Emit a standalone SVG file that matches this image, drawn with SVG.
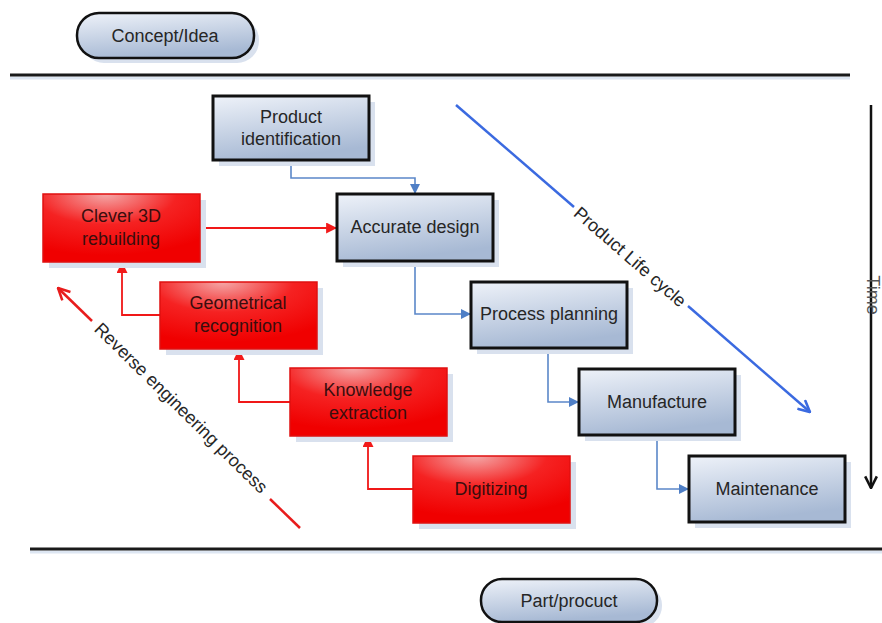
<svg xmlns="http://www.w3.org/2000/svg" width="882" height="623" viewBox="0 0 882 623">
<defs>
<linearGradient id="gb" x1="0" y1="0" x2="0.3" y2="1">
<stop offset="0" stop-color="#eef2f9"/>
<stop offset="1" stop-color="#a7b9d4"/>
</linearGradient>
<radialGradient id="gr" cx="0.4" cy="0" r="0.9">
<stop offset="0" stop-color="#f4a8a8"/>
<stop offset="0.5" stop-color="#f52222"/>
<stop offset="1" stop-color="#f00000"/>
</radialGradient>
<marker id="ab" viewBox="0 0 10 10" refX="9" refY="5" markerWidth="10" markerHeight="10" markerUnits="userSpaceOnUse" orient="auto">
<path d="M0,0 L10,5 L0,10 z" fill="#4f7fc6"/>
</marker>
<marker id="ar" viewBox="0 0 10 10" refX="9" refY="5" markerWidth="11" markerHeight="11" markerUnits="userSpaceOnUse" orient="auto">
<path d="M0,0 L10,5 L0,10 z" fill="#f21a1a"/>
</marker>
<marker id="alc" viewBox="0 0 12 12" refX="11" refY="6" markerWidth="14" markerHeight="14" markerUnits="userSpaceOnUse" orient="auto">
<path d="M1,1 L11,6 L1,11" fill="none" stroke="#3b6ae0" stroke-width="2.2"/>
</marker>
<marker id="are" viewBox="0 0 12 12" refX="11" refY="6" markerWidth="14" markerHeight="14" markerUnits="userSpaceOnUse" orient="auto">
<path d="M1,1 L11,6 L1,11" fill="none" stroke="#e81c1c" stroke-width="2.2"/>
</marker>
<marker id="atm" viewBox="0 0 12 12" refX="11" refY="6" markerWidth="14" markerHeight="14" markerUnits="userSpaceOnUse" orient="auto">
<path d="M1,1 L11,6 L1,11" fill="none" stroke="#111" stroke-width="2.2"/>
</marker>
</defs>
<style>
text{font-family:"Liberation Sans",Arial,sans-serif;font-size:18px;text-anchor:middle}
.bx{fill:url(#gb);stroke:#111;stroke-width:3}
.rx{fill:url(#gr);stroke:#e01010;stroke-width:1.5}
.sh{fill:#d9e1ee}
.pl{fill:url(#gb);stroke:#111;stroke-width:2.5}
.tb{fill:#262626}
.tr{fill:#3a0d0d}
.cb{fill:none;stroke:#5b87c9;stroke-width:1.6}
.cr{fill:none;stroke:#f01818;stroke-width:1.8}
</style>
<rect width="882" height="623" fill="#ffffff"/>

<g id="separators">
<line x1="10" y1="78" x2="850" y2="78" stroke="#dde6f2" stroke-width="3"/>
<line x1="10" y1="75" x2="850" y2="75" stroke="#1a1a1a" stroke-width="3"/>
<line x1="30" y1="552" x2="882" y2="552" stroke="#dde6f2" stroke-width="3"/>
<line x1="30" y1="549" x2="882" y2="549" stroke="#1a1a1a" stroke-width="3"/>
</g>

<g id="concept">
<rect x="82" y="18" width="177" height="45" rx="22" class="sh"/>
<rect x="77" y="13" width="177" height="45" rx="22" class="pl"/>
<text x="165" y="42" class="tb" font-size="17">Concept/Idea</text>
</g>
<g id="part">
<rect x="486" y="584" width="176" height="43" rx="21" class="sh"/>
<rect x="481" y="579" width="176" height="43" rx="21" class="pl"/>
<text x="569" y="607" class="tb" font-size="17">Part/procuct</text>
</g>

<g id="connectors">
<polyline points="291,161 291,178 415,178 415,193" class="cb" marker-end="url(#ab)"/>
<polyline points="415,262 415,314 470,314" class="cb" marker-end="url(#ab)"/>
<polyline points="548,349 548,402 578,402" class="cb" marker-end="url(#ab)"/>
<polyline points="657,436 657,489 688,489" class="cb" marker-end="url(#ab)"/>
<polyline points="200,228 336,228" class="cr" marker-end="url(#ar)"/>
<polyline points="160,315 122,315 122,263" class="cr" marker-end="url(#ar)"/>
<polyline points="290,402 239,402 239,350" class="cr" marker-end="url(#ar)"/>
<polyline points="413,489 368,489 368,437" class="cr" marker-end="url(#ar)"/>
</g>

<g id="lifecycle">
<line x1="456" y1="105" x2="574" y2="207" stroke="#3b6ae0" stroke-width="2.5"/>
<line x1="688" y1="306" x2="810" y2="412" stroke="#3b6ae0" stroke-width="2.5" marker-end="url(#alc)"/>
<text transform="translate(630,257) rotate(41)" y="6" class="tb" font-size="18">Product Life cycle</text>
</g>

<g id="reverse">
<line x1="300" y1="528" x2="270" y2="499" stroke="#e81c1c" stroke-width="2.5"/>
<line x1="92" y1="321" x2="58" y2="288" stroke="#e81c1c" stroke-width="2.5" marker-end="url(#are)"/>
<text transform="translate(181,408) rotate(44.5)" y="6" class="tb" font-size="17.5">Reverse engineering process</text>
</g>

<g id="time">
<line x1="871" y1="105" x2="871" y2="488" stroke="#111" stroke-width="2.5" marker-end="url(#atm)"/>
<text transform="translate(871,295) rotate(90)" y="4" font-size="10" fill="#555">Time</text>
</g>

<g id="product-identification">
<rect x="219" y="102" width="156" height="64" class="sh"/>
<rect x="213" y="96" width="156" height="64" class="bx"/>
<text x="291" y="123" class="tb">Product</text>
<text x="291" y="145" class="tb">identification</text>
</g>
<g id="accurate-design">
<rect x="343" y="200" width="156" height="67" class="sh"/>
<rect x="337" y="194" width="156" height="67" class="bx"/>
<text x="415" y="233" class="tb">Accurate design</text>
</g>
<g id="process-planning">
<rect x="477" y="288" width="156" height="66" class="sh"/>
<rect x="471" y="282" width="156" height="66" class="bx"/>
<text x="549" y="320" class="tb">Process planning</text>
</g>
<g id="manufacture">
<rect x="585" y="375" width="156" height="66" class="sh"/>
<rect x="579" y="369" width="156" height="66" class="bx"/>
<text x="657" y="408" class="tb">Manufacture</text>
</g>
<g id="maintenance">
<rect x="695" y="462" width="156" height="66" class="sh"/>
<rect x="689" y="456" width="156" height="66" class="bx"/>
<text x="767" y="495" class="tb">Maintenance</text>
</g>

<g id="clever-3d-rebuilding">
<rect x="49" y="200" width="157" height="68" class="sh"/>
<rect x="43" y="194" width="157" height="68" class="rx"/>
<text x="121" y="222" class="tr">Clever 3D</text>
<text x="121" y="245" class="tr">rebuilding</text>
</g>
<g id="geometrical-recognition">
<rect x="166" y="288" width="157" height="67" class="sh"/>
<rect x="160" y="282" width="157" height="67" class="rx"/>
<text x="238" y="309" class="tr">Geometrical</text>
<text x="238" y="332" class="tr">recognition</text>
</g>
<g id="knowledge-extraction">
<rect x="296" y="374" width="157" height="68" class="sh"/>
<rect x="290" y="368" width="157" height="68" class="rx"/>
<text x="368" y="396" class="tr">Knowledge</text>
<text x="368" y="419" class="tr">extraction</text>
</g>
<g id="digitizing">
<rect x="419" y="462" width="157" height="67" class="sh"/>
<rect x="413" y="456" width="157" height="67" class="rx"/>
<text x="491" y="495" class="tr">Digitizing</text>
</g>
</svg>
